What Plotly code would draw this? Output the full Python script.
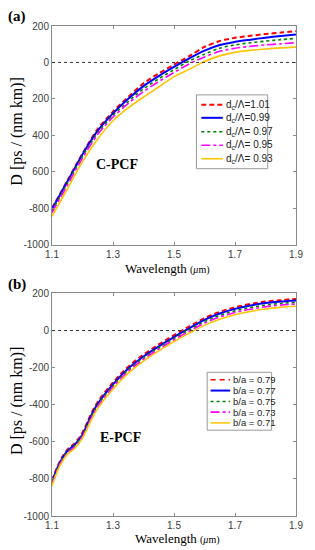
import plotly.graph_objects as go
from plotly.subplots import make_subplots

# ---------------- data ----------------
wl_a = [1.10, 1.15, 1.20, 1.25, 1.30, 1.35, 1.40, 1.45, 1.50, 1.55, 1.60, 1.65, 1.70, 1.75, 1.80, 1.85, 1.90]
a_101 = [-800, -650, -500, -365, -270, -190, -115, -60, -12, 35, 85, 118, 135, 146, 156, 164, 172]
a_099 = [-805, -655, -505, -375, -280, -200, -130, -75, -25, 22, 65, 96, 113, 125, 136, 145, 154]
a_097 = [-815, -665, -515, -385, -290, -215, -145, -90, -40, 8, 45, 78, 96, 108, 117, 125, 132]
a_095 = [-825, -675, -525, -395, -300, -225, -160, -105, -55, -8, 30, 61, 78, 88, 96, 102, 108]
a_093 = [-845, -695, -545, -420, -320, -250, -190, -135, -78, -38, 5, 36, 55, 66, 74, 80, 84]

wl_b = [1.10, 1.125, 1.15, 1.175, 1.20, 1.225, 1.25, 1.30, 1.35, 1.40, 1.45, 1.50, 1.55, 1.60, 1.65, 1.70, 1.75, 1.80, 1.85, 1.90]
b_079 = [-810, -708, -643, -607, -550, -460, -385, -280, -195, -130, -75, -25, 22, 67, 101, 125, 143, 156, 164, 170]
b_077 = [-815, -715, -650, -615, -560, -470, -395, -290, -205, -140, -85, -35, 12, 58, 92, 117, 135, 148, 156, 162]
b_075 = [-820, -720, -655, -620, -565, -477, -402, -297, -212, -147, -92, -42, 4, 49, 82, 106, 124, 137, 146, 152]
b_073 = [-828, -726, -661, -627, -572, -485, -410, -305, -220, -155, -100, -50, -4, 40, 73, 97, 115, 128, 137, 143]
b_071 = [-838, -733, -668, -635, -580, -495, -420, -315, -230, -165, -110, -60, -14, 28, 61, 85, 103, 116, 125, 131]

labels_a = ["d<sub>c</sub>/Λ=1.01", "d<sub>c</sub>/Λ=0.99", "d<sub>c</sub>/Λ= 0.97",
            "d<sub>c</sub>/Λ= 0.95", "d<sub>c</sub>/Λ= 0.93"]
labels_b = ["b/a = 0.79", "b/a = 0.77", "b/a = 0.75", "b/a = 0.73", "b/a = 0.71"]

x_ticks = [1.1, 1.3, 1.5, 1.7, 1.9]
y_tick_vals = [200, 0, -200, -400, -600, -800, -1000]
y_tick_text_a = ["200", "0", "200", "400", "600", "-800", "-1000"]
y_tick_text_b = ["200", "0", "-200", "-400", "-600", "-800", "-1000"]

# ---------------- styles ----------------
styles = [
    dict(color="#FF0000", width=2, dash="5px,3px"),
    dict(color="#0000FF", width=2, dash="solid"),
    dict(color="#008000", width=1.6, dash="dot"),
    dict(color="#FF00FF", width=1.6, dash="dashdot"),
    dict(color="#FFC400", width=1.6, dash="solid"),
]
styles_leg_b = [
    dict(color="#FF0000", width=1.5, dash="5px,4px"),
    dict(color="#0000FF", width=2, dash="solid"),
    dict(color="#008000", width=1.5, dash="dot"),
    dict(color="#FF00FF", width=1.8, dash="dashdot"),
    dict(color="#FFC400", width=1.5, dash="solid"),
]

# page is shown with an 8px body margin: lay out in page pixels, convert
OFF = 8
W, H = 315 - OFF, 550 - OFF
ML, MR, MT, MB = 52 - OFF, 13, 25 - OFF, 34
PW = W - ML - MR
PH = H - MT - MB


def P(xp):
    return (xp - OFF - ML) / PW


def Q(yp):
    return (H - MB - (yp - OFF)) / PH


fig = make_subplots(rows=2, cols=1)

series_a = [a_101, a_099, a_097, a_095, a_093]
series_b = [b_079, b_077, b_075, b_073, b_071]
for ys, st, lab in zip(series_a, styles, labels_a):
    fig.add_trace(go.Scatter(x=wl_a, y=ys, mode="lines", line=dict(shape="spline", smoothing=0.8, **st),
                             name=lab, showlegend=False), row=1, col=1)
for ys, st, lab in zip(series_b, styles, labels_b):
    fig.add_trace(go.Scatter(x=wl_b, y=ys, mode="lines", line=dict(shape="spline", **st),
                             name=lab, showlegend=False), row=2, col=1)

frame = "#8a8a8a"
tickfont = dict(family="Liberation Sans, Arial", size=10, color="#404040")
axis_common = dict(showgrid=False, zeroline=False, showline=True, linecolor=frame, linewidth=1,
                   mirror="ticks", ticks="inside", ticklen=3, tickcolor=frame, tickfont=tickfont)

fig.update_xaxes(range=[1.1, 1.9], tickvals=x_ticks, tickformat=".1f", domain=[0, 1], **axis_common)
fig.update_yaxes(range=[-1000, 200], tickvals=y_tick_vals, **axis_common)
fig.update_layout(
    yaxis=dict(domain=[Q(244), 1.0], ticktext=y_tick_text_a),
    yaxis2=dict(domain=[0.0, Q(293)], ticktext=y_tick_text_b),
)

shapes = []
# zero dashed lines
shapes.append(dict(type="line", xref="x", yref="y", x0=1.1, x1=1.9, y0=0, y1=0,
                   line=dict(color="#333333", width=1, dash="3px,3px")))
shapes.append(dict(type="line", xref="x2", yref="y2", x0=1.1, x1=1.9, y0=0, y1=0,
                   line=dict(color="#333333", width=1, dash="3px,3px")))

annotations = []
legfont_a = dict(family="Liberation Sans, Arial", size=10, color="#222222")
legfont_b = dict(family="Liberation Sans, Arial", size=9.5, color="#222222")

# legend a
shapes.append(dict(type="rect", xref="paper", yref="paper", x0=P(200), x1=P(273), y0=Q(168), y1=Q(94),
                   line=dict(color="#9a9a9a", width=1), fillcolor="white", layer="above"))
leg_a_y = [104, 117, 131, 144.5, 158]
for yy, st, lab in zip(leg_a_y, styles, labels_a):
    shapes.append(dict(type="line", xref="paper", yref="paper", x0=P(205), x1=P(227), y0=Q(yy), y1=Q(yy),
                       line=st, layer="above"))
    annotations.append(dict(x=P(228), y=Q(yy), xref="paper", yref="paper", text=lab, showarrow=False,
                            xanchor="left", yanchor="middle", font=legfont_a))

# legend b
shapes.append(dict(type="rect", xref="paper", yref="paper", x0=P(211), x1=P(277), y0=Q(430), y1=Q(372),
                   line=dict(color="#9a9a9a", width=1), fillcolor="white", layer="above"))
leg_b_y = [379.5, 390.3, 401.3, 412, 422.7]
for yy, st, lab in zip(leg_b_y, styles_leg_b, labels_b):
    shapes.append(dict(type="line", xref="paper", yref="paper", x0=P(214.5), x1=P(234.5), y0=Q(yy), y1=Q(yy),
                       line=st, layer="above"))
    annotations.append(dict(x=P(235.5), y=Q(yy), xref="paper", yref="paper", text=lab, showarrow=False,
                            xanchor="left", yanchor="middle", font=legfont_b))

serif = "Liberation Serif, Times New Roman"
# panel letters
annotations.append(dict(x=P(16.5), y=Q(15), xref="paper", yref="paper", text="<b>(a)</b>", showarrow=False,
                        xanchor="center", yanchor="middle", font=dict(family=serif, size=15, color="black")))
annotations.append(dict(x=P(16.5), y=Q(284), xref="paper", yref="paper", text="<b>(b)</b>", showarrow=False,
                        xanchor="center", yanchor="middle", font=dict(family=serif, size=15, color="black")))
# fiber labels
annotations.append(dict(x=P(119), y=Q(164), xref="paper", yref="paper", text="<b>C-PCF</b>", showarrow=False,
                        xanchor="center", yanchor="middle", font=dict(family=serif, size=14, color="black")))
annotations.append(dict(x=P(122), y=Q(437), xref="paper", yref="paper", text="<b>E-PCF</b>", showarrow=False,
                        xanchor="center", yanchor="middle", font=dict(family=serif, size=14, color="black")))
# axis titles
xt = "Wavelength <span style='font-size:10px'>(<i>μ</i>m)</span>"
annotations.append(dict(x=P(170), y=Q(268), xref="paper", yref="paper", text=xt, showarrow=False,
                        xanchor="center", yanchor="middle", font=dict(family=serif, size=13, color="black")))
annotations.append(dict(x=P(181), y=Q(539), xref="paper", yref="paper", text=xt, showarrow=False,
                        xanchor="center", yanchor="middle", font=dict(family=serif, size=13, color="black")))
yt = "D [ps / (nm km)]"
annotations.append(dict(x=P(16), y=Q(131), xref="paper", yref="paper", text=yt, showarrow=False, textangle=-90,
                        xanchor="center", yanchor="middle", font=dict(family=serif, size=16, color="black")))
annotations.append(dict(x=P(16), y=Q(401), xref="paper", yref="paper", text=yt, showarrow=False, textangle=-90,
                        xanchor="center", yanchor="middle", font=dict(family=serif, size=16, color="black")))

fig.update_layout(
    width=W, height=H,
    margin=dict(l=ML, r=MR, t=MT, b=MB),
    paper_bgcolor="white", plot_bgcolor="white",
    shapes=shapes, annotations=annotations,
    showlegend=False,
)

fig.write_html("out.html")
